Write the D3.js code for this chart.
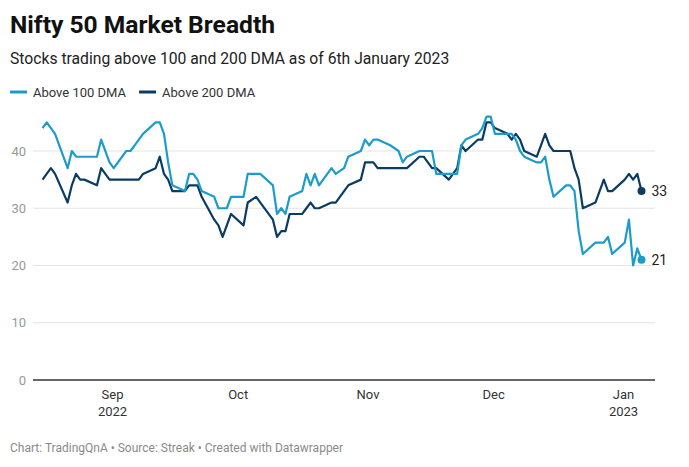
<!DOCTYPE html>
<html>
<head>
<meta charset="utf-8">
<script src="https://cdn.jsdelivr.net/npm/d3@7"></script>
<style>
  html, body { margin: 0; padding: 0; background: #fff; }
  svg { display: block; font-family: Roboto, "Noto Sans", sans-serif; }
</style>
</head>
<body>
<svg id="chart" width="689" height="467"></svg>
<script>
const dates = [
  "2022-08-16","2022-08-17","2022-08-18","2022-08-19","2022-08-22","2022-08-23","2022-08-24","2022-08-25","2022-08-26","2022-08-29","2022-08-30",
  "2022-09-01","2022-09-02","2022-09-05","2022-09-06","2022-09-07","2022-09-08","2022-09-09","2022-09-12","2022-09-13","2022-09-14","2022-09-15","2022-09-16",
  "2022-09-19","2022-09-20","2022-09-21","2022-09-22","2022-09-23","2022-09-26","2022-09-27","2022-09-28","2022-09-29","2022-09-30",
  "2022-10-03","2022-10-04","2022-10-06","2022-10-07","2022-10-10","2022-10-11","2022-10-12","2022-10-13","2022-10-14",
  "2022-10-17","2022-10-18","2022-10-19","2022-10-20","2022-10-21","2022-10-24","2022-10-25","2022-10-27","2022-10-28","2022-10-31",
  "2022-11-01","2022-11-02","2022-11-03","2022-11-04","2022-11-07","2022-11-09","2022-11-10","2022-11-11","2022-11-14","2022-11-15","2022-11-16","2022-11-17","2022-11-18",
  "2022-11-21","2022-11-22","2022-11-23","2022-11-24","2022-11-25","2022-11-28","2022-11-29","2022-11-30",
  "2022-12-01","2022-12-02","2022-12-05","2022-12-06","2022-12-07","2022-12-08","2022-12-09","2022-12-12","2022-12-13","2022-12-14","2022-12-15","2022-12-16",
  "2022-12-19","2022-12-20","2022-12-21","2022-12-22","2022-12-23","2022-12-26","2022-12-27","2022-12-28","2022-12-29","2022-12-30",
  "2023-01-02","2023-01-03","2023-01-04","2023-01-05","2023-01-06"
];
const above100 = [
  44,45,44,43,37,40,39,39,39,39,42,
  38,37,40,40,41,42,43,45,45,43,38,34,
  33,36,36,35,33,32,30,30,30,32,
  32,36,36,36,34,29,30,29,32,
  33,36,34,36,34,37,36,37,39,40,
  42,41,42,42,41,40,38,39,40,40,40,40,36,
  36,36,36,41,42,43,44,46,
  46,43,43,43,42,40,39,38,38,39,35,32,
  34,34,33,26,22,24,24,24,25,22,
  24,28,20,23,21
];
const above200 = [
  35,36,37,36,31,34,36,35,35,34,37,
  35,35,35,35,35,35,36,37,39,36,35,33,
  33,34,34,34,32,28,27,25,27,29,
  27,31,32,31,28,25,26,26,29,
  29,30,31,30,30,31,31,33,34,35,
  38,38,38,37,37,37,37,37,39,39,38,37,37,
  35,36,37,41,40,42,42,45,
  45,44,43,42,43,42,40,39,41,43,41,40,
  40,40,37,35,30,31,33,35,33,33,
  35,36,35,36,33
];
const seriesNames = ["Above 100 DMA", "Above 200 DMA"];
const seriesColors = ["#1b9ccb", "#0a3c63"];
const yTicks = [0, 10, 20, 30, 40];
const xTickDates = ["2022-09-01","2022-10-01","2022-11-01","2022-12-01","2023-01-01"];
const xTickLabels = [["Sep","2022"],["Oct"],["Nov"],["Dec"],["Jan","2023"]];

const parse = d3.timeParse("%Y-%m-%d");
const dateObjs = dates.map(parse);
const series = [above100, above200].map((vals, i) => ({
  name: seriesNames[i], color: seriesColors[i],
  values: vals.map((v, j) => ({ date: dateObjs[j], value: v }))
}));

const svg = d3.select("#chart");

// Header
svg.append("text").attr("x", 10).attr("y", 33)
  .attr("font-size", 24.6).attr("font-weight", 700).attr("fill", "#111")
  .text("Nifty 50 Market Breadth");
svg.append("text").attr("x", 10).attr("y", 64)
  .attr("font-size", 15.7).attr("fill", "#222")
  .text("Stocks trading above 100 and 200 DMA as of 6th January 2023");

// Legend
let lx = 10;
series.forEach((s, i) => {
  const g = svg.append("g").attr("transform", `translate(${lx},92)`);
  g.append("line").attr("x1", 0).attr("x2", 17).attr("y1", 0).attr("y2", 0)
    .attr("stroke", s.color).attr("stroke-width", 3);
  const t = g.append("text").attr("x", 23).attr("y", 5)
    .attr("font-size", 13).attr("fill", "#333").text(s.name);
  lx += 23 + t.node().getComputedTextLength() + 13;
});

// Scales
const x = d3.scaleTime()
  .domain([dateObjs[0], dateObjs[dateObjs.length - 1]])
  .range([42.5, 641.5]);
const y = d3.scaleLinear().domain([0, 40]).range([380, 151]);

// Gridlines + y labels
const grid = svg.append("g");
yTicks.forEach(t => {
  grid.append("line").attr("x1", 33).attr("x2", 655)
    .attr("y1", y(t)).attr("y2", y(t))
    .attr("stroke", t === 0 ? "#333" : "#e3e3e3")
    .attr("stroke-width", t === 0 ? 1.3 : 1);
  grid.append("text").attr("x", 26).attr("y", y(t) + 4.5)
    .attr("text-anchor", "end").attr("font-size", 13).attr("fill", "#999")
    .text(t);
});

// x axis labels
xTickDates.forEach((d, i) => {
  const tx = x(parse(d)) + 3;
  xTickLabels[i].forEach((lab, k) => {
    svg.append("text").attr("x", tx).attr("y", 399 + k * 17)
      .attr("text-anchor", "middle").attr("font-size", 13).attr("fill", "#333")
      .text(lab);
  });
});

// Lines
const line = d3.line().x(d => x(d.date)).y(d => y(d.value));
[...series].reverse().forEach(s => {
  svg.append("path").datum(s.values)
    .attr("fill", "none").attr("stroke", s.color)
    .attr("stroke-width", 2.2).attr("stroke-linejoin", "round")
    .attr("d", line);
});

// End dots + labels
series.forEach(s => {
  const last = s.values[s.values.length - 1];
  svg.append("circle").attr("cx", x(last.date)).attr("cy", y(last.value))
    .attr("r", 4).attr("fill", s.color);
  svg.append("text").attr("x", x(last.date) + 10).attr("y", y(last.value) + 5)
    .attr("font-size", 14).attr("fill", "#222").text(last.value);
});

// Footer
svg.append("text").attr("x", 10).attr("y", 452)
  .attr("font-size", 12).attr("fill", "#8a8a8a")
  .text("Chart: TradingQnA \u2022 Source: Streak \u2022 Created with Datawrapper");
</script>
</body>
</html>
